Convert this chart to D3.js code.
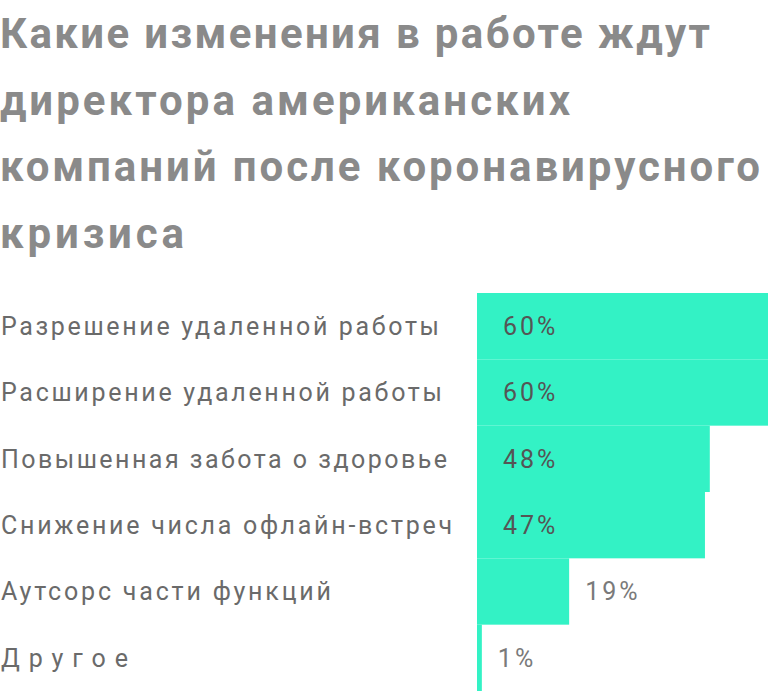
<!DOCTYPE html>
<html><head><meta charset="utf-8">
<script src="https://cdn.jsdelivr.net/npm/d3@7"></script>
<style>body{margin:0;background:#fff}</style></head>
<body><svg id="c" width="768" height="691"></svg>
<script>
const titleLines = ["Какие изменения в работе ждут","директора американских","компаний после коронавирусного","кризиса"];
const titleWidths = [710,570,760,184];
const categories = ["Разрешение удаленной работы","Расширение удаленной работы","Повышенная забота о здоровье","Снижение числа офлайн-встреч","Аутсорс части функций","Другое"];
const labelWidths = [438,441,446,451,330,127];
const values = [60,60,48,47,19,1];

const svg = d3.select("#c");
svg.selectAll("text.t").data(titleLines).join("text").attr("class","t")
  .attr("x",0).attr("y",(d,i)=>48+i*66.5)
  .attr("font-family","Roboto").attr("font-weight","bold").attr("font-size",42)
  .attr("fill","#8a8a8a").attr("textLength",(d,i)=>titleWidths[i]).attr("lengthAdjust","spacing").text(d=>d);

const x = d3.scaleLinear().domain([0,60]).range([477,768]);
const y = d3.scaleBand().domain(categories).range([293,691]).padding(0);

svg.selectAll("rect").data(values).join("rect")
  .attr("x",x(0)).attr("y",(d,i)=>y(categories[i]))
  .attr("width",d=>x(d)-x(0)).attr("height",y.bandwidth())
  .attr("fill","#33f2c5");

svg.selectAll("text.l").data(categories).join("text").attr("class","l")
  .attr("x",1).attr("y",d=>y(d)+y.bandwidth()/2).attr("dy","0.35em")
  .attr("font-family","Roboto").attr("font-size",25).attr("fill","#6a6a6a")
  .attr("textLength",(d,i)=>labelWidths[i]).attr("lengthAdjust","spacing").text(d=>d);

svg.selectAll("text.v").data(values).join("text").attr("class","v")
  .attr("x",d=>d>30?x(0)+26:x(d)+16)
  .attr("y",(d,i)=>y(categories[i])+y.bandwidth()/2).attr("dy","0.35em")
  .attr("font-family","Roboto").attr("font-size",25).attr("letter-spacing",3)
  .attr("fill",d=>d>30?"#555":"#7a7a7a").text(d=>d+"%");
</script></body></html>
